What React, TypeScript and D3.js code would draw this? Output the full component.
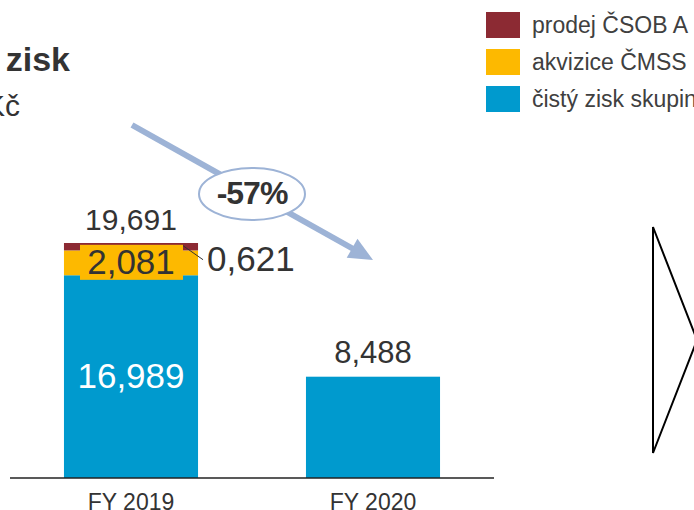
import React from "react";
import * as d3 from "d3";

const categories = ["FY 2019", "FY 2020"];
const seriesNames = ["prodej ČSOB A", "akvizice ČMSS", "čistý zisk skupiny"];
const prodejCSOB = [0.621, 0];
const akviziceCMSS = [2.081, 0];
const cistyZisk = [16.989, 8.488];
const totals = [19.691, 8.488];
const changeLabel = "-57%";
const titleLine1 = "Čistý zisk";
const titleLine2 = "mld. Kč";

const W = 694;
const H = 510;
const FONT = "'Liberation Sans', Arial, sans-serif";
const BLUE = "#009ACE";
const YELLOW = "#FDB900";
const MAROON = "#8C2A33";
const ARROW = "#9DB3D6";
const TEXT = "#333333";

const fmt = d3.formatLocale({ decimal: ",", thousands: " ", grouping: [3], currency: ["", " Kč"] }).format(".3f");

export default function App() {
  const x = d3.scaleBand<string>().domain(categories).range([10, 494]).paddingInner(0.446).paddingOuter(0.223);
  const y = d3.scaleLinear().domain([0, 20]).range([478, 478 - 20 * 11.934]);

  const rows = categories.map((c, i) => ({ cat: c, blue: cistyZisk[i], yellow: akviziceCMSS[i], maroon: prodejCSOB[i] }));
  const stack = d3.stack<any>().keys(["blue", "yellow", "maroon"])(rows);
  const colors: Record<string, string> = { blue: BLUE, yellow: YELLOW, maroon: MAROON };

  const bw = x.bandwidth();

  // arrow geometry
  const ax1 = 132, ay1 = 125, ax2 = 373, ay2 = 260;
  const dx = ax2 - ax1, dy = ay2 - ay1;
  const len = Math.hypot(dx, dy);
  const ux = dx / len, uy = dy / len;
  const headLen = 24, headW = 11;
  const bx = ax2 - ux * headLen, by = ay2 - uy * headLen;
  const head = `M${ax2},${ay2} L${bx - uy * headW},${by + ux * headW} L${bx + uy * headW},${by - ux * headW} Z`;

  const legendColors = [MAROON, YELLOW, BLUE];

  return (
    <svg width={W} height={H} style={{ position: "fixed", left: 0, top: 0, background: "#fff" }} fontFamily={FONT}>
      <rect width={W} height={H} fill="#fff" />
      {/* title */}
      <text x={70} y={71} textAnchor="end" fontSize={34} fontWeight="bold" fill={TEXT}>{titleLine1}</text>
      <text x={20} y={116} textAnchor="end" fontSize={30} fill={TEXT}>{titleLine2}</text>

      {/* legend */}
      {seriesNames.map((n, i) => (
        <g key={n}>
          <rect x={486} y={12 + i * 37} width={34} height={26} fill={legendColors[i]} />
          <text x={532} y={33 + i * 37} fontSize={23} fill="#404040">{n}</text>
        </g>
      ))}

      {/* bars */}
      {stack.map((s) => (
        <g key={s.key} fill={colors[s.key]}>
          {s.map((d, i) => d[1] - d[0] > 0 ? (
            <rect key={i} x={x(categories[i])} y={y(d[1])} width={bw} height={y(d[0]) - y(d[1])} />
          ) : null)}
        </g>
      ))}

      {/* axis */}
      <line x1={10} x2={494} y1={y(0)} y2={y(0)} stroke="#222" strokeWidth={1.5} />
      {categories.map((c) => (
        <text key={c} x={x(c)! + bw / 2} y={510} textAnchor="middle" fontSize={23} fill={TEXT}>{c}</text>
      ))}

      {/* totals */}
      <text x={x(categories[0])! + bw / 2} y={y(totals[0]) - 13} textAnchor="middle" fontSize={30} fill={TEXT}>{fmt(totals[0])}</text>
      <text x={x(categories[1])! + bw / 2} y={y(totals[1]) - 14} textAnchor="middle" fontSize={31} fill={TEXT}>{fmt(totals[1])}</text>

      {/* blue label */}
      <text x={x(categories[0])! + bw / 2} y={(y(0) + y(cistyZisk[0])) / 2 + 11} textAnchor="middle" fontSize={35} fill="#fff">{fmt(cistyZisk[0])}</text>

      {/* yellow label with background */}
      {(() => {
        const cy = (y(cistyZisk[0]) + y(cistyZisk[0] + akviziceCMSS[0])) / 2;
        const cx = x(categories[0])! + bw / 2;
        return (
          <g>
            <rect x={cx - 51} y={cy - 18} width={103} height={35} fill={YELLOW} />
            <text x={cx} y={cy + 11} textAnchor="middle" fontSize={35} fill={TEXT}>{fmt(akviziceCMSS[0])}</text>
          </g>
        );
      })()}

      {/* maroon label with leader */}
      {(() => {
        const my = (y(totals[0]) + y(cistyZisk[0] + akviziceCMSS[0])) / 2;
        const right = x(categories[0])! + bw;
        return (
          <g>
            <line x1={right - 15} y1={my - 1} x2={right + 5} y2={my + 13} stroke="#333" strokeWidth={1} />
            <text x={right + 9} y={my + 24} fontSize={35} fill={TEXT}>{fmt(prodejCSOB[0])}</text>
          </g>
        );
      })()}

      {/* change arrow */}
      <line x1={ax1} y1={ay1} x2={bx + ux * 2} y2={by + uy * 2} stroke={ARROW} strokeWidth={6} />
      <path d={head} fill={ARROW} />
      <ellipse cx={252} cy={194} rx={53} ry={26} fill="#fff" stroke={ARROW} strokeWidth={2} />
      <text x={252} y={204} textAnchor="middle" fontSize={32} fontWeight="bold" fill={TEXT} letterSpacing={-1}>{changeLabel}</text>

      {/* right shape */}
      <path d="M653,227 L653,453 L697,340 Z" fill="none" stroke="#000" strokeWidth={2} />
    </svg>
  );
}
